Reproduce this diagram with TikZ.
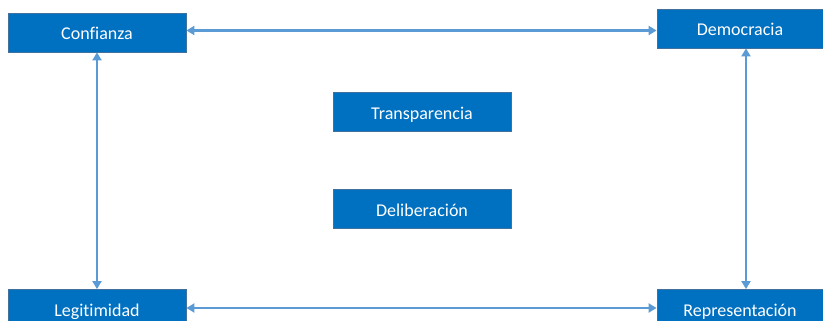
\documentclass[tikz,border=0pt]{standalone}
\usepackage{fontspec}
\setmainfont{Carlito}[Ligatures=NoCommon]
\usetikzlibrary{arrows.meta}
\definecolor{boxfill}{HTML}{0070C0}
\definecolor{boxline}{HTML}{41719C}
\definecolor{arrowc}{HTML}{5B9BD5}
\begin{document}
\begin{tikzpicture}[x=1pt,y=-1pt,
  box/.style={rectangle,fill=boxfill,draw=boxline,line width=0.8pt,text=white,
    font=\fontsize{18}{21}\selectfont,minimum height=39pt,inner sep=0pt,
    text height=15pt,text depth=0pt},
  link/.style={draw=arrowc,line width=2.2pt,
    {Triangle[length=8pt,width=9pt]}-{Triangle[length=8pt,width=9pt]}}]
\useasboundingbox (0,0) rectangle (823,321);
\node[box,minimum width=178pt] (conf) at (97,32.5) {Confianza};
\node[box,minimum width=166pt] (dem) at (740,28.5) {Democracia};
\node[box,minimum width=178pt] (leg) at (97,309) {Legitimidad};
\node[box,minimum width=166pt] (rep) at (740,309) {Representación};
\node[box,minimum width=178pt] (tra) at (422,112) {Transparencia};
\node[box,minimum width=178pt] (del) at (422,208.5) {Deliberación};
\draw[link] (conf.east |- 0,30.5) -- (dem.west |- 0,30.5);
\draw[link] (leg.east |- 0,308) -- (rep.west |- 0,308);
\draw[link] (conf.south -| 97,0) -- (leg.north -| 97,0);
\draw[link] (dem.south -| 746,0) -- (rep.north -| 746,0);
\end{tikzpicture}
\end{document}
